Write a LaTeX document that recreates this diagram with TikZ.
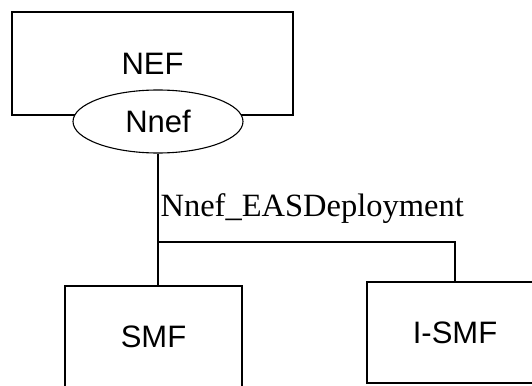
\documentclass[tikz,border=0pt]{standalone}
\usepackage{fontspec}
\setmainfont{Liberation Sans}
\newfontfamily\labelfont{Liberation Serif}
\usepackage{tikz}
\usetikzlibrary{shapes.geometric}

\begin{document}
\begin{tikzpicture}[x=1pt,y=-1pt,line width=1.1pt,
        nfbox/.style={draw, rectangle, inner sep=0pt, font=\fontsize{31}{36}\selectfont},
        svc/.style={draw, ellipse, fill=white, inner sep=0pt, font=\fontsize{31}{36}\selectfont}]
        \useasboundingbox (0,0) rectangle (532,385);
        \node[nfbox, minimum width=281pt, minimum height=103pt] (nef)  at (152.5, 63.5) {NEF};
        \node[svc,   minimum width=170pt, minimum height=63pt]  (nnef) at (158,121.5) {Nnef};
        \node[nfbox, minimum width=177pt, minimum height=101pt] (smf)  at (153.5,336.5) {SMF};
        \node[nfbox, minimum width=176pt, minimum height=101pt] (ismf) at (455,332.5) {I-SMF};
        \coordinate (jn) at (158,242);
        \draw (nnef.south) -- (nnef.south |- smf.north);
        \draw (jn) -| (ismf.north);
        \node[anchor=south west, inner sep=0pt, font=\labelfont\fontsize{32.5}{38}\selectfont] (api) at (160,224) {Nnef\_EASDeployment};
\end{tikzpicture}
\end{document}
